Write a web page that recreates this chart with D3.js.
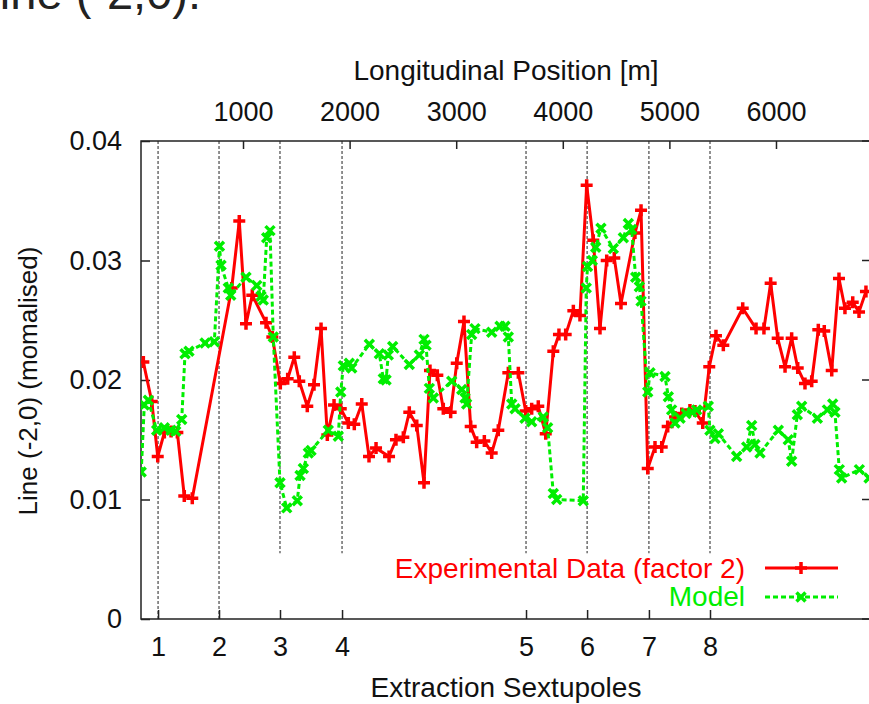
<!DOCTYPE html>
<html>
<head>
<meta charset="utf-8">
<script src="https://cdn.jsdelivr.net/npm/d3@7"></script>
<style>
  html, body { margin: 0; padding: 0; background: #fff; }
  svg { display: block; font-family: "Liberation Sans", Arial, sans-serif; }
</style>
</head>
<body>
<svg id="chart" width="869" height="704"></svg>
<script>
// ---- data (position in m, normalised line amplitude) ----
const expPos = [65,144,200,262,325,384,449,524,894,965,1028,1087,1216,1275,1350,1419,1481,1528,1603,1666,1732,1791,1854,1917,1988,2044,2114,2182,2248,2370,2435,2504,2560,2630,2698,2754,2823,2879,2948,3005,3073,3136,3192,3264,3333,3395,3489,3583,3652,3708,3770,3840,3911,3964,4027,4099,4161,4224,4286,4349,4412,4483,4546,4677,4734,4797,4865,4928,4984,5053,5116,5193,5240,5313,5374,5437,5506,5688,5813,5887,5950,6016,6085,6147,6204,6272,6335,6397,6453,6523,6591,6647,6720,6779,6844];
const expVal = [0.0215,0.0182,0.0136,0.0156,0.0157,0.0156,0.0103,0.0101,0.0277,0.0333,0.0247,0.0271,0.0248,0.0236,0.0197,0.0201,0.0219,0.0199,0.0178,0.0196,0.0243,0.0154,0.0179,0.0176,0.0164,0.0163,0.0180,0.0136,0.0143,0.0136,0.0150,0.0152,0.0173,0.0162,0.0114,0.0208,0.0204,0.0176,0.0173,0.0214,0.0249,0.0161,0.0148,0.0149,0.0139,0.0158,0.0206,0.0206,0.0174,0.0176,0.0178,0.0155,0.0224,0.0238,0.0238,0.0258,0.0254,0.0363,0.0317,0.0243,0.0300,0.0302,0.0264,0.0323,0.0342,0.0126,0.0144,0.0144,0.0161,0.0169,0.0172,0.0175,0.0174,0.0164,0.0211,0.0237,0.0229,0.0260,0.0243,0.0243,0.0281,0.0235,0.0211,0.0235,0.0210,0.0197,0.0199,0.0242,0.0241,0.0208,0.0285,0.0260,0.0265,0.0257,0.0274];

const modPos = [45,74,112,190,262,325,369,425,456,493,644,731,779,794,862,885,1028,1129,1169,1190,1222,1253,1284,1347,1410,1509,1535,1566,1613,1638,1800,1894,1917,1941,1997,2020,2185,2279,2316,2342,2363,2404,2560,2654,2698,2717,2748,2785,2958,3052,3083,3098,3145,3176,3333,3411,3458,3489,3521,3552,3645,3708,3817,3858,3911,3943,4192,4220,4232,4277,4309,4358,4474,4568,4615,4646,4684,4718,4734,4797,4818,4959,4990,5021,5053,5100,5156,5212,5256,5365,5380,5428,5459,5631,5725,5772,5803,5850,6022,6115,6147,6200,6241,6388,6482,6532,6553,6594,6616,6782,6873];
const modVal = [0.0123,0.0179,0.0183,0.0158,0.0160,0.0158,0.0157,0.0167,0.0222,0.0224,0.0231,0.0232,0.0312,0.0296,0.0277,0.0271,0.0286,0.0279,0.0270,0.0267,0.0319,0.0325,0.0236,0.0114,0.0093,0.0099,0.0120,0.0126,0.0139,0.0141,0.0158,0.0153,0.0190,0.0212,0.0214,0.0210,0.0230,0.0222,0.0201,0.0200,0.0221,0.0228,0.0213,0.0221,0.0234,0.0229,0.0193,0.0185,0.0199,0.0192,0.0185,0.0180,0.0238,0.0243,0.0240,0.0245,0.0245,0.0236,0.0180,0.0176,0.0168,0.0165,0.0169,0.0160,0.0105,0.0100,0.0099,0.0277,0.0295,0.0300,0.0311,0.0327,0.0310,0.0319,0.0331,0.0326,0.0286,0.0278,0.0266,0.0190,0.0206,0.0203,0.0186,0.0175,0.0164,0.0168,0.0172,0.0173,0.0175,0.0178,0.0158,0.0151,0.0155,0.0136,0.0144,0.0162,0.0146,0.0139,0.0158,0.0150,0.0132,0.0171,0.0178,0.0168,0.0175,0.0180,0.0173,0.0125,0.0118,0.0125,0.0118];

const sextPos = [203,775,1347,1929,3655,4228,4808,5381];
const sextLabels = ["1","2","3","4","5","6","7","8"];
const topTicks = [1000,2000,3000,4000,5000,6000];
const yTicks = [0,0.01,0.02,0.03,0.04];
const yTickLabels = ["0","0.01","0.02","0.03","0.04"];
const fullLines = [true,true,false,false,false,false,false,false];

// ---- layout ----
const svg = d3.select("#chart");
const L = 141, R = 870, T = 141, B = 619;
const x = d3.scaleLinear().domain([43, 6882]).range([L, R]);
const y = d3.scaleLinear().domain([0, 0.04]).range([B, T]);
const RED = "#ff0000", GREEN = "#00ee00";
const font = "'Liberation Sans', Arial, sans-serif";

// title (cut off at top)
svg.append("text").attr("x", 201).attr("y", 9).attr("text-anchor", "end")
  .attr("font-size", 47).attr("fill", "#222").text("Line (-2,0).");

svg.append("defs").append("clipPath").attr("id", "clip")
  .append("rect").attr("x", L).attr("y", T - 10).attr("width", R - L).attr("height", B - T + 10);

// vertical dashed sextupole lines
svg.append("g").selectAll("line").data(sextPos).join("line")
  .attr("x1", d => x(d)).attr("x2", d => x(d))
  .attr("y1", y(0.04))
  .attr("y2", (d, i) => fullLines[i] ? y(0) : y(0.0055))
  .attr("stroke", "#222").attr("stroke-width", 1).attr("stroke-dasharray", "3,2");

// axes frame
const frame = svg.append("g").attr("stroke", "#222").attr("stroke-width", 1.5).attr("fill", "none");
frame.append("path").attr("d", `M${R},${T}H${L}V${B}H${R}`);

// left axis
const yAxis = d3.axisLeft(y).tickValues(yTicks).tickFormat((d, i) => yTickLabels[i]).tickSize(-9).tickPadding(19);
const gy = svg.append("g").attr("transform", `translate(${L},0)`).call(yAxis);
gy.select(".domain").remove();
gy.selectAll("line").attr("stroke", "#222").attr("stroke-width", 1.5);
gy.selectAll("text").attr("font-size", 27).attr("font-family", font).attr("fill", "#111");

// right mirror ticks
svg.append("g").selectAll("line").data(yTicks).join("line")
  .attr("x1", R - 8).attr("x2", R).attr("y1", d => y(d)).attr("y2", d => y(d))
  .attr("stroke", "#222").attr("stroke-width", 1.5);

// top axis (longitudinal position)
const topAxis = d3.axisTop(x).tickValues(topTicks).tickFormat(d3.format("d")).tickSize(-8).tickPadding(20);
const gt = svg.append("g").attr("transform", `translate(0,${T})`).call(topAxis);
gt.select(".domain").remove();
gt.selectAll("line").attr("stroke", "#222").attr("stroke-width", 1.5);
gt.selectAll("text").attr("font-size", 27).attr("font-family", font).attr("fill", "#111");

// bottom axis (extraction sextupoles)
const botAxis = d3.axisBottom(x).tickValues(sextPos).tickFormat((d, i) => sextLabels[i]).tickSize(-9).tickPadding(18);
const gb = svg.append("g").attr("transform", `translate(0,${B})`).call(botAxis);
gb.select(".domain").remove();
gb.selectAll("line").attr("stroke", "#222").attr("stroke-width", 1.5);
gb.selectAll("text").attr("font-size", 27).attr("font-family", font).attr("fill", "#111");

// axis titles
svg.append("text").attr("x", 506).attr("y", 80).attr("text-anchor", "middle")
  .attr("font-size", 28).attr("fill", "#111").text("Longitudinal Position [m]");
svg.append("text").attr("x", 506).attr("y", 697).attr("text-anchor", "middle")
  .attr("font-size", 28).attr("fill", "#111").text("Extraction Sextupoles");
svg.append("text").attr("transform", "translate(37,381) rotate(-90)").attr("text-anchor", "middle")
  .attr("font-size", 26).attr("fill", "#111").text("Line (-2,0) (momalised)");

// series
const plot = svg.append("g").attr("clip-path", "url(#clip)");
const expData = expPos.map((p, i) => [p, expVal[i]]);
const modData = modPos.map((p, i) => [p, modVal[i]]);
const line = d3.line().x(d => x(d[0])).y(d => y(d[1]));

const plusPath = "M-6,0H6M0,-6V6";
const crossPath = "M-4.5,-4.5L4.5,4.5M-4.5,4.5L4.5,-4.5";

plot.append("path").datum(expData).attr("d", line).attr("fill", "none")
  .attr("stroke", RED).attr("stroke-width", 3).attr("stroke-linejoin", "round");
plot.append("g").selectAll("path").data(expData).join("path")
  .attr("transform", d => `translate(${x(d[0])},${y(d[1])})`)
  .attr("d", plusPath).attr("stroke", RED).attr("stroke-width", 3.5).attr("fill", "none");

plot.append("path").datum(modData).attr("d", line).attr("fill", "none")
  .attr("stroke", GREEN).attr("stroke-width", 3).attr("stroke-dasharray", "5,3");
plot.append("g").selectAll("path").data(modData).join("path")
  .attr("transform", d => `translate(${x(d[0])},${y(d[1])})`)
  .attr("d", crossPath).attr("stroke", GREEN).attr("stroke-width", 3.5).attr("fill", "none");

// legend
const leg = svg.append("g");
leg.append("text").attr("x", 745).attr("y", 578).attr("text-anchor", "end")
  .attr("font-size", 28).attr("fill", RED).text("Experimental Data (factor 2)");
leg.append("line").attr("x1", 765).attr("x2", 838).attr("y1", 568).attr("y2", 568)
  .attr("stroke", RED).attr("stroke-width", 3);
leg.append("path").attr("transform", "translate(801,568)").attr("d", plusPath)
  .attr("stroke", RED).attr("stroke-width", 3.5);
leg.append("text").attr("x", 745).attr("y", 606).attr("text-anchor", "end")
  .attr("font-size", 28).attr("fill", GREEN).text("Model");
leg.append("line").attr("x1", 765).attr("x2", 838).attr("y1", 597).attr("y2", 597)
  .attr("stroke", GREEN).attr("stroke-width", 3).attr("stroke-dasharray", "5,3");
leg.append("path").attr("transform", "translate(801,597)").attr("d", crossPath)
  .attr("stroke", GREEN).attr("stroke-width", 3.5);
</script>
</body>
</html>
